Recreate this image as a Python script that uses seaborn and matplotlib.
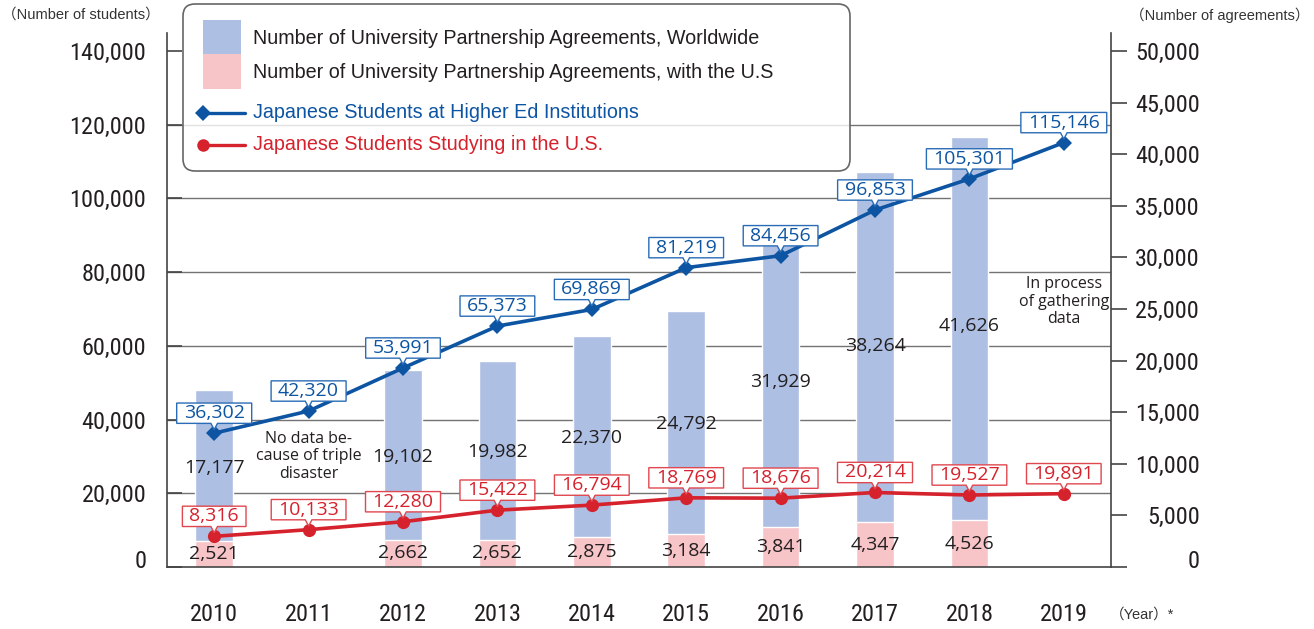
import numpy as np
import pandas as pd
import matplotlib
matplotlib.use('Agg')
import matplotlib.pyplot as plt
import matplotlib.transforms as mtransforms
from matplotlib import font_manager as fm
from matplotlib.patches import FancyBboxPatch, Rectangle
from matplotlib.lines import Line2D
from matplotlib.path import Path
import seaborn as sns

# data
years = ['2010', '2011', '2012', '2013', '2014', '2015', '2016', '2017', '2018', '2019']
agree_world = [17177, np.nan, 19102, 19982, 22370, 24792, 31929, 38264, 41626, np.nan]
agree_us = [2521, np.nan, 2662, 2652, 2875, 3184, 3841, 4347, 4526, np.nan]
students_higher_ed = [36302, 42320, 53991, 65373, 69869, 81219, 84456, 96853, 105301, 115146]
students_us = [8316, 10133, 12280, 15422, 16794, 18769, 18676, 20214, 19527, 19891]
student_ticks = [0, 20000, 40000, 60000, 80000, 100000, 120000, 140000]
agree_ticks = [0, 5000, 10000, 15000, 20000, 25000, 30000, 35000, 40000, 45000, 50000]

df = pd.DataFrame({'year': years, 'world': agree_world, 'us': agree_us,
                   'higher_ed': students_higher_ed, 'us_students': students_us})

# colours
c_world = '#adbfe3'
c_us = '#f7c4c8'
c_blue = '#0d55a3'
c_red = '#d5222c'
c_txt = '#231f20'
c_axis = '#444444'

sns.set_theme(style='white')


def pick_condensed():
    # the axis numbers are set in a condensed face; use whichever one is installed
    cands = [('Roboto Condensed', 'normal'), ('Liberation Sans Narrow', 'normal'),
             ('Noto Sans', 'condensed'), ('DejaVu Sans', 'condensed')]
    for fam, st in cands:
        try:
            p = fm.findfont(fm.FontProperties(family=fam, stretch=st), fallback_to_default=False)
        except Exception:
            continue
        if st == 'normal' or 'ondensed' in p:
            return fam, st
    return 'Liberation Sans', 'normal'


cond_family, cond_stretch = pick_condensed()
num_font = ['Open Sans', 'DejaVu Sans']
leg_font = ['Liberation Sans', 'DejaVu Sans']
paren_font = ['Liberation Sans', 'Noto Sans CJK JP', 'DejaVu Sans']
plt.rcParams['font.family'] = [cond_family, 'DejaVu Sans']
plt.rcParams['font.stretch'] = cond_stretch

W, H = 1314, 629
fig = plt.figure(figsize=(W / 100, H / 100), dpi=100)
ax = fig.add_axes([167 / W, 1 - 567 / H, (1111 - 167) / W, (567 - 33) / H])
ax2 = ax.twinx()

# both scales extend 18 px above the top gridline
ext = 534 / 516
ax.set_ylim(0, 50000 * ext)
ax2.set_ylim(0, 140000 * ext)

# bars (agreements, right axis)
sns.barplot(data=df, x='year', y='world', order=years, color=c_world, saturation=1,
            width=0.4, errorbar=None, ax=ax)
sns.barplot(data=df, x='year', y='us', order=years, color=c_us, saturation=1,
            width=0.4, errorbar=None, ax=ax)

for i, v in enumerate(agree_world):
    if not np.isnan(v):
        ax.text(i, v * 0.56, f'{int(v):,}', ha='center', va='center', fontsize=14,
                family=num_font, stretch='normal', color=c_txt, zorder=4)
for i, v in enumerate(agree_us):
    if not np.isnan(v):
        ax.text(i, v * 0.5, f'{int(v):,}', ha='center', va='center', fontsize=14,
                family=num_font, stretch='normal', color=c_txt, zorder=4)

# lines (students, left axis)
sns.pointplot(data=df, x='year', y='higher_ed', order=years, color=c_blue, markers='D',
              markersize=8, markeredgewidth=0, linewidth=2.6, errorbar=None, ax=ax2)
sns.pointplot(data=df, x='year', y='us_students', order=years, color=c_red, markers='o',
              markersize=9.5, markeredgewidth=0, linewidth=2.6, errorbar=None, ax=ax2)


def callout(x0, y0, width, height, mutation_size):
    padx = 0.36 * mutation_size
    pady = 0.06 * mutation_size
    left, right = x0 - padx, x0 + width + padx
    bottom, top = y0 - pady, y0 + height + pady
    cx = (left + right) / 2
    hw = 0.17 * mutation_size
    dip = 0.32 * mutation_size
    return Path([(left, bottom), (cx - hw, bottom), (cx, bottom - dip), (cx + hw, bottom),
                 (right, bottom), (right, top), (left, top), (left, bottom)], closed=True)


for vals, col, ecol in [(students_higher_ed, c_blue, '#2a6cb5'), (students_us, c_red, '#e0474f')]:
    for i, v in enumerate(vals):
        ax2.annotate(f'{v:,}', xy=(i, v), xytext=(0, 20), textcoords='offset pixels',
                     ha='center', va='center', fontsize=14, family=num_font, stretch='normal',
                     color=col, bbox=dict(boxstyle=callout, fc='white', ec=ecol, lw=1), zorder=5)

ax2.text(years.index('2011'), 30000, 'No data be-\ncause of triple\ndisaster', ha='center',
         va='center', fontsize=11.5, family=num_font, stretch='normal', color=c_txt, linespacing=1.12)
ax2.text(years.index('2019'), 72000, 'In process\nof gathering\ndata', ha='center',
         va='center', fontsize=11.5, family=num_font, stretch='normal', color=c_txt, linespacing=1.12)

# x axis
ax.set_xlim(-0.5, len(years) - 0.5)
ax.set_xticks(range(len(years)), years)
ax.set_xticks(np.arange(-0.5, len(years)), minor=True)
ax.tick_params(axis='x', which='major', length=0, pad=26, labelsize=17.5, labelcolor=c_txt)
ax.tick_params(axis='x', which='minor', direction='out', length=13, width=1.2, color=c_axis)
ax.set_xlabel('')
ax.set_ylabel('')
ax2.set_ylabel('')

# right axis: agreements
ax.yaxis.tick_right()
ax.set_yticks(agree_ticks)
ax.yaxis.set_major_formatter(lambda v, p: f'{int(v):,}')
ax.tick_params(axis='y', which='major', direction='out', length=11.5, width=1.2,
               color=c_axis, pad=52.5, labelsize=17.5, labelcolor=c_txt)
for t in ax.yaxis.get_major_ticks():
    t.label2.set_horizontalalignment('right')

# gridlines follow the student scale, drawn behind the bars
ax.set_yticks([s * 50000 / 140000 for s in student_ticks], minor=True)
ax.tick_params(axis='y', which='minor', length=0)
ax.grid(False)
ax.grid(axis='y', which='minor', color='#737373', lw=1)
ax.set_axisbelow(True)

# left axis: students
ax2.yaxis.tick_left()
ax2.set_yticks(student_ticks)
ax2.yaxis.set_major_formatter(lambda v, p: f'{int(v):,}')
ax2.tick_params(axis='y', direction='in', length=11, width=1.2, color=c_axis, pad=15,
                labelsize=17.5, labelcolor=c_txt)
ax2.grid(False)

ax.spines['top'].set_visible(False)
for s in ['left', 'right', 'bottom']:
    ax.spines[s].set_color(c_axis)
    ax.spines[s].set_linewidth(1.2)
for s in ax2.spines.values():
    s.set_visible(False)

# lift the zero labels a little off the baseline
t0 = ax2.yaxis.get_major_ticks()[0].label1
t0.set_transform(mtransforms.offset_copy(t0.get_transform(), fig=fig, y=8, units='dots'))
t0 = ax.yaxis.get_major_ticks()[0].label2
t0.set_transform(mtransforms.offset_copy(t0.get_transform(), fig=fig, y=8, units='dots'))

# axis titles
fig.text(2 / W, 1 - 15 / H, '（Number of students）', ha='left', va='center', fontsize=10.5,
         family=paren_font, stretch='normal', color='#333333')
fig.text(1310 / W, 1 - 15 / H, '（Number of agreements）', ha='right', va='center', fontsize=10.5,
         family=paren_font, stretch='normal', color='#333333')
fig.text(1110 / W, 1 - 615 / H, '（Year）*', ha='left', va='center', fontsize=10.5,
         family=paren_font, stretch='normal', color='#333333')

# legend panel
T = mtransforms.IdentityTransform()
fig.add_artist(FancyBboxPatch((183, H - 171), 850 - 183, 171 - 4,
                              boxstyle='round,pad=0,rounding_size=12', transform=T,
                              fc=(1, 1, 1, 0.8), ec='#666666', lw=1.2))
fig.add_artist(Rectangle((203, H - 54), 38, 34, transform=T, fc=c_world, ec='none'))
fig.add_artist(Rectangle((203, H - 89), 38, 35, transform=T, fc=c_us, ec='none'))
fig.add_artist(Line2D([203, 245], [H - 113, H - 113], transform=T, color=c_blue, lw=2.4,
                      marker='D', markevery=[0], ms=8, mew=0))
fig.add_artist(Line2D([203, 245], [H - 145, H - 145], transform=T, color=c_red, lw=2.4,
                      marker='o', markevery=[0], ms=9, mew=0))
leg_items = [('Number of University Partnership Agreements, Worldwide', 39, c_txt),
             ('Number of University Partnership Agreements, with the U.S', 72, c_txt),
             ('Japanese Students at Higher Ed Institutions', 113, c_blue),
             ('Japanese Students Studying in the U.S.', 145, c_red)]
for label, yy, col in leg_items:
    fig.text(253 / W, 1 - yy / H, label, ha='left', va='center', fontsize=14.2,
             family=leg_font, stretch='normal', color=col)

fig.savefig('out.png', dpi=100)
